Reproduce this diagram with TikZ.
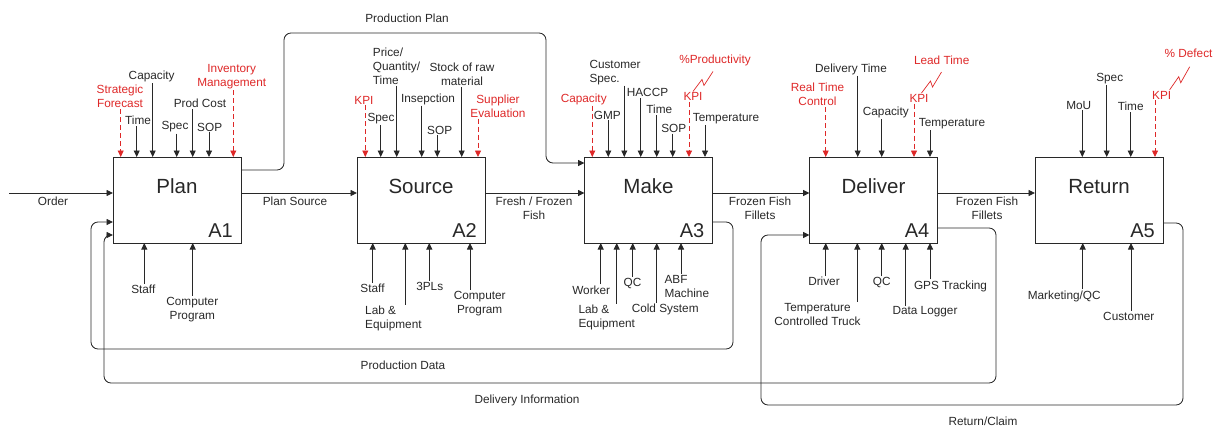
\documentclass[tikz,border=0pt]{standalone}
\usepackage{fontspec}
\setmainfont{Liberation Sans}
\usetikzlibrary{arrows.meta}
\definecolor{kred}{RGB}{222,40,40}
\definecolor{kline}{RGB}{40,40,40}
\newcommand\ctlin[4]{\draw[#1] (#2.south -| #3,0) -- (#4.north -| #3,0);}
\newcommand\mechin[3]{\draw[ctl] (#1.north -| #2,0) -- (#3.south -| #2,0);}
\begin{document}
\begin{tikzpicture}[x=1pt,y=-1pt,
 lab/.style={font=\fontsize{11.8}{14}\selectfont, inner sep=1pt, align=center, text=kline},
 rlab/.style={lab, text=kred},
 ctl/.style={draw=kline, line width=0.85pt, -{Triangle[length=6.5pt,width=6pt]}},
 rctl/.style={ctl, draw=kred, dash pattern=on 5pt off 3pt},
 fb/.style={ctl, rounded corners=7pt},
 blk/.style={draw=kline, line width=1pt, minimum width=128pt, minimum height=86pt, inner sep=0pt, outer sep=0pt},
 ttl/.style={font=\fontsize{20.5}{24}\selectfont, text=kline, anchor=base, inner sep=0pt},
 anum/.style={font=\fontsize{20}{24}\selectfont, text=kline, anchor=base east, inner sep=0pt},
 zz/.style={draw=kred, line width=0.7pt}]
\useasboundingbox (0,0) rectangle (1217,428);

% boxes
\node[blk] (plan) at (177,200) {};
\node[blk] (source) at (421,200) {};
\node[blk] (make) at (648.5,200) {};
\node[blk] (deliver) at (873.5,200) {};
\node[blk] (return) at (1099,200) {};
\foreach \b/\t/\a in {plan/Plan/A1, source/Source/A2, make/Make/A3, deliver/Deliver/A4, return/Return/A5}{
  \node[ttl] (\b-t) at ([yshift=-36pt]\b.north) {\t};
  \node[anum] (\b-a) at ([xshift=-8pt,yshift=6pt]\b.south east) {\a};
}

% main flow
\coordinate (yf) at (0,193);
\coordinate (order-in) at (9,193);
\draw[ctl] (order-in) -- (plan.west |- yf);
\node[lab] (order) at (53,201) {Order};
\draw[ctl] (plan.east |- yf) -- (source.west |- yf);
\node[lab] (ps) at (295,201) {Plan Source};
\draw[ctl] (source.east |- yf) -- (make.west |- yf);
\node[lab] (ff) at (534,208) {Fresh / Frozen\\Fish};
\draw[ctl] (make.east |- yf) -- (deliver.west |- yf);
\node[lab] (ffa) at (760,208) {Frozen Fish\\Fillets};
\draw[ctl] (deliver.east |- yf) -- (return.west |- yf);
\node[lab] (ffb) at (987,208) {Frozen Fish\\Fillets};

% feedback / feedforward
\draw[fb] (plan.east |- 0,170) -- (284,170) -- (284,33) -- (546,33) -- (546,163) -- (make.west |- 0,163);
\node[lab] (pp) at (407,18) {Production Plan};
\draw[fb] (make.east |- 0,222) -- (733,222) -- (733,349) -- (91,349) -- (91,222) -- (plan.west |- 0,222);
\node[lab] (pd) at (403,365) {Production Data};
\draw[fb] (deliver.east |- 0,228) -- (996,228) -- (996,383) -- (104,383) -- (104,235) -- (plan.west |- 0,235);
\node[lab] (di) at (527,400) {Delivery Information};
\draw[fb] (return.east |- 0,223) -- (1183,223) -- (1183,405) -- (761,405) -- (761,235) -- (deliver.west |- 0,235);
\node[lab] (rc) at (983,421) {Return/Claim};

% Plan controls
\node[rlab] (pSF) at (120,96.5) {Strategic\\Forecast};
\node[lab] (pTime) at (138,120.7) {Time};
\node[lab] (pCap) at (151.7,76.7) {Capacity};
\node[lab] (pSpec) at (175,127) {Spec};
\node[lab] (pCost) at (200,103.7) {Prod Cost};
\node[lab] (pSOP) at (209.7,127) {SOP};
\node[rlab] (pInv) at (231.7,76.7) {Inventory\\Management};
\ctlin{rctl}{pSF}{120.7}{plan}
\ctlin{ctl}{pTime}{136.7}{plan}
\ctlin{ctl}{pCap}{152.7}{plan}
\ctlin{ctl}{pSpec}{176.7}{plan}
\ctlin{ctl}{pCost}{192.7}{plan}
\ctlin{ctl}{pSOP}{209}{plan}
\ctlin{rctl}{pInv}{233.3}{plan}

% Source controls
\node[rlab] (sKPI) at (364,100) {KPI};
\node[lab] (sSpec) at (381,118.3) {Spec};
\node[lab, anchor=west, align=left] (sPQT) at (371.7,66) {Price/\\Quantity/\\Time};
\node[lab] (sIns) at (428,99) {Insepction};
\node[lab] (sSOP) at (439.7,130) {SOP};
\node[lab] (sStock) at (462,74.5) {Stock of raw\\material};
\node[rlab] (sSup) at (498,106.2) {Supplier\\Evaluation};
\ctlin{rctl}{sKPI}{365.3}{source}
\ctlin{ctl}{sSpec}{380.7}{source}
\ctlin{ctl}{sPQT}{396.7}{source}
\ctlin{ctl}{sIns}{421.7}{source}
\ctlin{ctl}{sSOP}{437.3}{source}
\ctlin{ctl}{sStock}{461.7}{source}
\ctlin{rctl}{sSup}{478}{source}

% Make controls
\node[rlab] (mCap) at (583.7,99) {Capacity};
\node[lab] (mGMP) at (607.3,115) {GMP};
\node[lab, anchor=west, align=left] (mCS) at (588.3,72.2) {Customer\\Spec.};
\node[lab] (mHACCP) at (647.5,92.7) {HACCP};
\node[lab] (mTime) at (659.3,109.3) {Time};
\node[lab] (mSOP) at (673.7,128.3) {SOP};
\node[rlab] (mKPI) at (693,96.7) {KPI};
\node[rlab] (mProd) at (715,60) {\%Productivity};
\node[lab] (mTemp) at (726,118.3) {Temperature};
\ctlin{rctl}{mCap}{592.3}{make}
\ctlin{ctl}{mGMP}{608.3}{make}
\ctlin{ctl}{mCS}{624.3}{make}
\ctlin{ctl}{mHACCP}{640.7}{make}
\ctlin{ctl}{mTime}{656.7}{make}
\ctlin{ctl}{mSOP}{672.7}{make}
\ctlin{rctl}{mKPI}{689}{make}
\ctlin{ctl}{mTemp}{705}{make}
\draw[zz] (mKPI.north) -- ++(9,-12) -- ++(2,6) -- ++(9,-14);

% Deliver controls
\node[rlab] (dRT) at (817.5,94.5) {Real Time\\Control};
\node[lab] (dDT) at (851,69) {Delivery Time};
\node[lab] (dCap) at (885.8,112.7) {Capacity};
\node[rlab] (dKPI) at (919,98.3) {KPI};
\node[rlab] (dLead) at (941.7,60) {Lead Time};
\node[lab] (dTemp) at (952,124) {Temperature};
\ctlin{rctl}{dRT}{825.7}{deliver}
\ctlin{ctl}{dDT}{857.7}{deliver}
\ctlin{ctl}{dCap}{881.7}{deliver}
\ctlin{rctl}{dKPI}{914}{deliver}
\ctlin{ctl}{dTemp}{930}{deliver}
\draw[zz] ([xshift=2.5pt]dKPI.north) -- ++(9,-12) -- ++(2,6) -- ++(9,-15);

% Return controls
\node[lab] (rMoU) at (1078.7,105) {MoU};
\node[lab] (rSpec) at (1109.7,78.3) {Spec};
\node[lab] (rTime) at (1130.7,106.7) {Time};
\node[rlab] (rKPI) at (1161.7,95) {KPI};
\node[rlab] (rDef) at (1188.5,53.3) {\% Defect};
\ctlin{ctl}{rMoU}{1082.3}{return}
\ctlin{ctl}{rSpec}{1106.7}{return}
\ctlin{ctl}{rTime}{1130.7}{return}
\ctlin{rctl}{rKPI}{1155}{return}
\draw[zz] ([xshift=8pt]rKPI.north) -- ++(9,-13) -- ++(2,6) -- ++(9,-16);

% Plan mechanisms
\node[lab] (pStaff) at (143.3,289.3) {Staff};
\node[lab] (pComp) at (192.3,309.7) {Computer\\Program};
\mechin{pStaff}{144.3}{plan}
\mechin{pComp}{192.7}{plan}

% Source mechanisms
\node[lab] (sStaff) at (372.5,288.3) {Staff};
\node[lab, anchor=west, align=left] (sLab) at (364,318.3) {Lab \&\\Equipment};
\node[lab] (s3PL) at (429.7,286) {3PLs};
\node[lab] (sComp) at (479.7,303.5) {Computer\\Program};
\mechin{sStaff}{372.7}{source}
\mechin{sLab}{405.3}{source}
\mechin{s3PL}{429.3}{source}
\mechin{sComp}{470}{source}

% Make mechanisms
\node[lab] (mWork) at (591.2,290) {Worker};
\node[lab, anchor=west, align=left] (mLab) at (577.3,317.5) {Lab \&\\Equipment};
\node[lab] (mQC) at (632.5,283.3) {QC};
\node[lab] (mCold) at (665.2,309.3) {Cold System};
\node[lab, anchor=west, align=left] (mABF) at (663.3,286.2) {ABF\\Machine};
\mechin{mWork}{600.7}{make}
\mechin{mLab}{616.7}{make}
\mechin{mQC}{632.7}{make}
\mechin{mCold}{656.7}{make}
\mechin{mABF}{681}{make}

% Deliver mechanisms
\node[lab] (dDriver) at (824,281.7) {Driver};
\node[lab] (dTCT) at (817.5,314.2) {Temperature\\Controlled Truck};
\node[lab] (dQC) at (881.7,282.7) {QC};
\node[lab] (dDL) at (925,312) {Data Logger};
\node[lab] (dGPS) at (950.5,286) {GPS Tracking};
\mechin{dDriver}{825.7}{deliver}
\mechin{dTCT}{857.3}{deliver}
\mechin{dQC}{881.7}{deliver}
\mechin{dDL}{905.7}{deliver}
\mechin{dGPS}{930}{deliver}

% Return mechanisms
\node[lab] (rMkt) at (1064.2,296) {Marketing/QC};
\node[lab] (rCust) at (1128.8,316) {Customer};
\mechin{rMkt}{1082.7}{return}
\mechin{rCust}{1131}{return}
\end{tikzpicture}
\end{document}
